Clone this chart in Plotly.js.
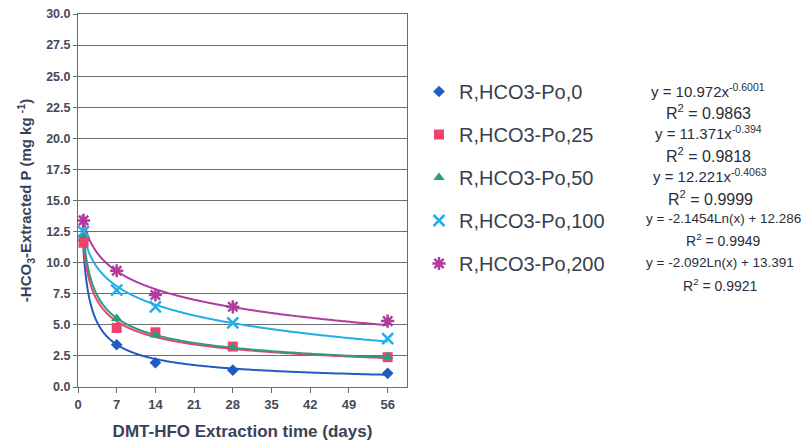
<!DOCTYPE html>
<html><head><meta charset="utf-8">
<script src="https://cdn.plot.ly/plotly-3.0.1.min.js"></script>
<style>html,body{margin:0;padding:0;background:#fff}#c{width:805px;height:446px}</style>
</head><body><div id="c"></div>
<script>
// Data
const days = [1, 7, 14, 28, 56];
const seriesNames = ['R,HCO3-Po,0', 'R,HCO3-Po,25', 'R,HCO3-Po,50', 'R,HCO3-Po,100', 'R,HCO3-Po,200'];
const po0   = [11.8, 3.4, 1.95, 1.35, 1.1];
const po25  = [11.6, 4.75, 4.4, 3.25, 2.4];
const po50  = [12.2, 5.5, 4.2, 3.2, 2.45];
const po100 = [12.5, 7.8, 6.45, 5.15, 3.9];
const po200 = [13.4, 9.35, 7.4, 6.45, 5.3];
// Trendline equations shown in the chart
const trendType = ['power', 'power', 'power', 'log', 'log'];
const trendA = [10.972, 11.371, 12.221, -2.1454, -2.092];
const trendB = [-0.6001, -0.394, -0.4063, 12.286, 13.391];
const eqText = ['y = 10.972x<sup>-0.6001</sup>', 'y = 11.371x<sup>-0.394</sup>', 'y = 12.221x<sup>-0.4063</sup>',
                'y = -2.1454Ln(x) + 12.286', 'y = -2.092Ln(x) + 13.391'];
const r2Text = ['R<sup>2</sup> = 0.9863', 'R<sup>2</sup> = 0.9818', 'R<sup>2</sup> = 0.9999', 'R<sup>2</sup> = 0.9949', 'R<sup>2</sup> = 0.9921'];
const xTicks = [0, 7, 14, 21, 28, 35, 42, 49, 56];
const yTicks = [0, 2.5, 5, 7.5, 10, 12.5, 15, 17.5, 20, 22.5, 25, 27.5, 30];

const values = [po0, po25, po50, po100, po200];
const colors = ['#1f5cc4', '#f0426a', '#2e9a80', '#22aee8', '#b23c9e'];
const symbols = ['diamond', 'square', 'triangle-up', 'x-thin-open', 'asterisk-open'];
const msizes = [9, 10, 10, 11, 11];

const traces = [];
const xs = [];
for (let i = 0; i <= 300; i++) xs.push(0.8 * Math.pow(56 / 0.8, i / 300));
for (let s = 0; s < 5; s++) {
  const ys = xs.map(x => trendType[s] === 'power' ? trendA[s] * Math.pow(x, trendB[s]) : trendA[s] * Math.log(x) + trendB[s]);
  traces.push({x: xs, y: ys, mode: 'lines', line: {color: colors[s], width: 2, shape: 'spline'}, showlegend: false, hoverinfo: 'skip'});
}
for (let s = 0; s < 5; s++) {
  const isLine = symbols[s].indexOf('open') >= 0;
  traces.push({x: days, y: values[s], mode: 'markers', name: seriesNames[s], legendgroup: 'g' + s,
    marker: {symbol: symbols[s], size: msizes[s], color: colors[s], line: {color: colors[s], width: isLine ? 2.5 : 0}}});
}

const ann = [];
const eqX = [708, 708, 710, 723, 720];
const eqY = [90, 132, 175, 218, 262];
const eqSize = [15, 15, 15, 13.5, 13.5];
const r2Size = [16, 16, 16, 14, 14];
const r2Gap = [22, 23, 23, 22, 23];
for (let s = 0; s < 5; s++) {
  ann.push({xref: 'paper', yref: 'paper', x: (eqX[s] - 78) / 329, y: 1 - (eqY[s] - 14) / 373, text: eqText[s], showarrow: false,
    xanchor: 'center', yanchor: 'middle', font: {family: 'Arial, Liberation Sans, sans-serif', size: eqSize[s], color: '#2a2e3a'}});
  ann.push({xref: 'paper', yref: 'paper', x: (eqX[s] - 78) / 329, y: 1 - (eqY[s] + r2Gap[s] - 14) / 373, text: r2Text[s], showarrow: false,
    xanchor: 'center', yanchor: 'middle', font: {family: 'Arial, Liberation Sans, sans-serif', size: r2Size[s], color: '#2a2e3a'}});
}

const layout = {
  width: 805, height: 446,
  margin: {l: 78, r: 398, t: 14, b: 59},
  paper_bgcolor: '#ffffff', plot_bgcolor: '#ffffff',
  font: {family: 'Arial, Liberation Sans, sans-serif', color: '#3a3f4d'},
  xaxis: {range: [0, 59.5], tickvals: xTicks, ticktext: xTicks.map(v => '<b>' + v + '</b>'), showgrid: false, zeroline: false,
    showline: true, linecolor: '#6a6a6a', linewidth: 1, mirror: true, ticks: 'outside', ticklen: 5, tickcolor: '#6a6a6a',
    tickfont: {size: 13, color: '#454a56', family: 'Arial, Liberation Sans, sans-serif', weight: 'bold'},
    title: {text: '<b>DMT-HFO Extraction time (days)</b>', font: {size: 17, color: '#3a4256'}, standoff: 14}},
  yaxis: {range: [0, 30], tickvals: yTicks, ticktext: yTicks.map(v => '<b>' + v.toFixed(1) + '</b>'), showgrid: true, gridcolor: '#6f6f6f', gridwidth: 1, zeroline: false,
    showline: true, linecolor: '#6a6a6a', linewidth: 1, mirror: true, ticks: 'outside', ticklen: 4, tickcolor: '#6a6a6a',
    tickfont: {size: 12.5, color: '#454a56', family: 'Arial, Liberation Sans, sans-serif', weight: 'bold'},
    title: {text: '<b>-HCO<sub>3</sub>-Extracted P (mg kg <sup>-1</sup>)</b>', font: {size: 15, color: '#3a4256'}, standoff: 10}},
  showlegend: true,
  legend: {x: (419 - 78) / 329, y: 1 - (72 - 14) / 373, xanchor: 'left', yanchor: 'top', bgcolor: 'rgba(0,0,0,0)',
    traceorder: 'grouped', tracegroupgap: 14, itemwidth: 30,
    font: {size: 20, color: '#3a3f4d', family: 'Arial, Liberation Sans, sans-serif'}},
  annotations: ann
};
Plotly.newPlot('c', traces, layout, {displayModeBar: false, staticPlot: true});
</script></body></html>
